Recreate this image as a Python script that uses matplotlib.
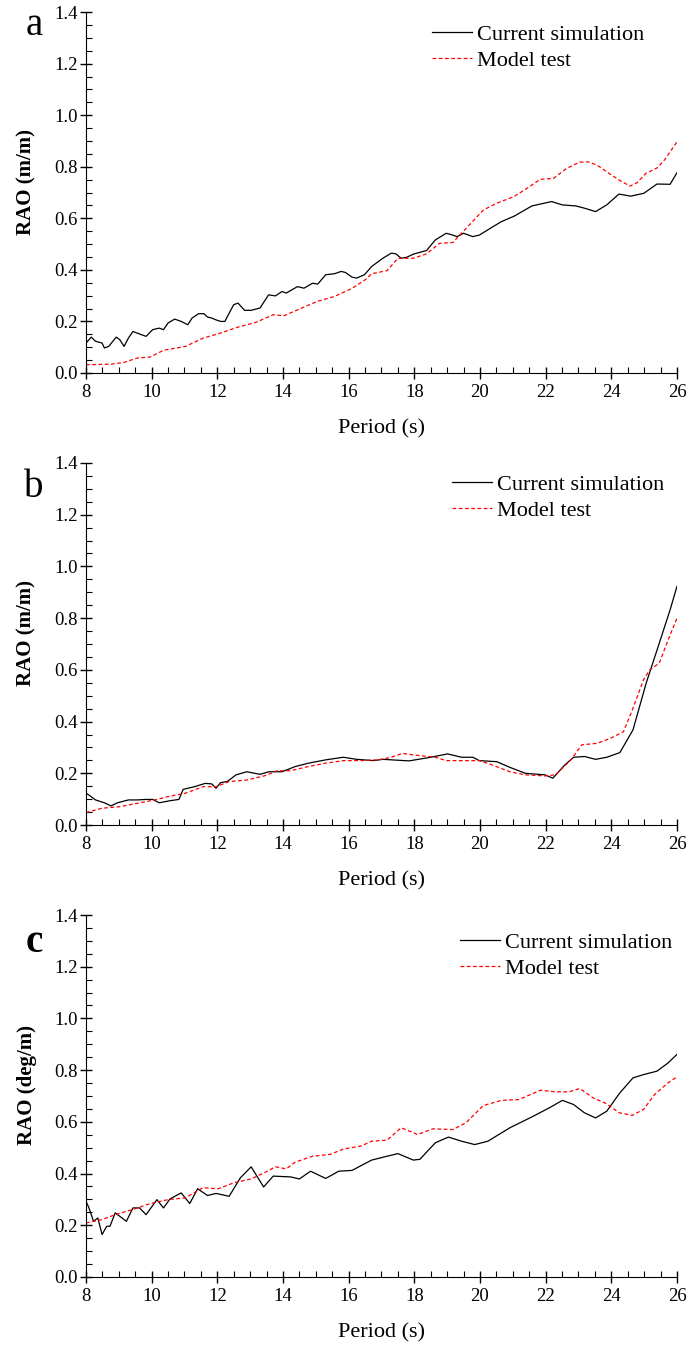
import matplotlib
matplotlib.use('Agg')
import matplotlib.pyplot as plt
from matplotlib.ticker import MultipleLocator

plt.rcParams['font.family'] = ['Liberation Serif', 'DejaVu Serif']

# ---- panel a: RAO (m/m) ----
a_sim_x = [8.0, 8.16, 8.29, 8.49, 8.56, 8.69, 8.92, 9.03, 9.16, 9.29, 9.43, 9.70, 9.83,
           10.03, 10.23, 10.36, 10.50, 10.70, 10.90, 11.1, 11.23, 11.43, 11.59, 11.70,
           11.83, 11.96, 12.1, 12.23, 12.36, 12.5, 12.63, 12.83, 13.03, 13.3, 13.56,
           13.77, 13.97, 14.1, 14.44, 14.64, 14.9, 15.06, 15.3, 15.57, 15.77, 15.9,
           16.1, 16.24, 16.48, 16.7, 17.04, 17.3, 17.44, 17.6, 17.77, 17.97, 18.37,
           18.64, 18.97, 19.17, 19.3, 19.5, 19.78, 19.98, 20.31, 20.65, 21.05, 21.58,
           22.18, 22.51, 22.92, 23.19, 23.52, 23.86, 24.23, 24.59, 24.99, 25.39, 25.79, 26.0]
a_sim_y = [0.116, 0.139, 0.123, 0.116, 0.097, 0.103, 0.139, 0.129, 0.103, 0.135, 0.161,
           0.148, 0.142, 0.168, 0.174, 0.168, 0.194, 0.209, 0.2, 0.187, 0.213, 0.23, 0.23,
           0.217, 0.213, 0.206, 0.2, 0.2, 0.232, 0.265, 0.271, 0.243, 0.243, 0.252, 0.303,
           0.299, 0.316, 0.31, 0.335, 0.329, 0.348, 0.345, 0.381, 0.385, 0.394, 0.39,
           0.372, 0.368, 0.381, 0.413, 0.445, 0.465, 0.462, 0.445, 0.449, 0.461, 0.475,
           0.516, 0.542, 0.535, 0.529, 0.542, 0.529, 0.535, 0.561, 0.587, 0.609, 0.648,
           0.665, 0.652, 0.648, 0.639, 0.626, 0.652, 0.694, 0.686, 0.697, 0.733, 0.732, 0.777]
a_test_x = [8.0, 8.76, 9.16, 9.56, 9.96, 10.36, 11.03, 11.56, 12.1, 12.63, 13.17, 13.7,
            14.03, 14.5, 15.03, 15.57, 16.1, 16.5, 16.7, 17.17, 17.5, 17.97, 18.37, 18.77,
            19.17, 19.63, 20.1, 20.5, 21.03, 21.43, 21.83, 22.24, 22.64, 23.04, 23.3,
            23.57, 23.9, 24.24, 24.57, 24.78, 25.05, 25.4, 25.63, 26.0]
a_test_y = [0.032, 0.034, 0.041, 0.058, 0.062, 0.088, 0.103, 0.135, 0.155, 0.178, 0.196,
            0.226, 0.222, 0.248, 0.277, 0.297, 0.328, 0.361, 0.385, 0.397, 0.445, 0.445,
            0.462, 0.503, 0.506, 0.568, 0.632, 0.658, 0.684, 0.716, 0.751, 0.755, 0.794,
            0.818, 0.819, 0.806, 0.777, 0.748, 0.725, 0.738, 0.774, 0.796, 0.828, 0.897]

# ---- panel b: RAO (m/m) ----
b_sim_x = [8.0, 8.09, 8.29, 8.56, 8.76, 8.96, 9.29, 9.56, 9.83, 10.03, 10.23, 10.56, 10.83,
           10.96, 11.3, 11.63, 11.83, 11.96, 12.1, 12.3, 12.57, 12.9, 13.3, 13.57, 13.97,
           14.37, 14.77, 15.3, 15.84, 16.24, 16.77, 17.04, 17.84, 18.5, 19.01, 19.44,
           19.78, 19.98, 20.51, 20.91, 21.38, 21.98, 22.22, 22.58, 22.85, 23.18, 23.52,
           23.86, 24.26, 24.66, 25.06, 25.46, 25.79, 26.0]
b_sim_y = [0.123, 0.116, 0.097, 0.086, 0.074, 0.086, 0.097, 0.097, 0.099, 0.099, 0.086,
           0.094, 0.099, 0.138, 0.148, 0.161, 0.159, 0.142, 0.164, 0.168, 0.194, 0.206,
           0.196, 0.206, 0.206, 0.226, 0.239, 0.252, 0.262, 0.254, 0.249, 0.254, 0.248,
           0.262, 0.275, 0.262, 0.262, 0.249, 0.245, 0.223, 0.2, 0.194, 0.181, 0.232,
           0.262, 0.265, 0.254, 0.262, 0.28, 0.368, 0.548, 0.703, 0.832, 0.923]
b_test_x = [8.0, 8.49, 9.03, 9.56, 10.1, 10.5, 11.03, 11.56, 11.96, 12.36, 12.9, 13.43,
            13.83, 14.23, 14.77, 15.3, 15.84, 16.37, 16.9, 17.3, 17.64, 17.97, 18.64,
            18.97, 19.57, 19.98, 20.38, 20.91, 21.38, 21.98, 22.3, 22.77, 23.1, 23.57,
            23.97, 24.37, 24.64, 24.98, 25.17, 25.46, 25.73, 26.0]
b_test_y = [0.048, 0.065, 0.071, 0.084, 0.097, 0.11, 0.123, 0.148, 0.148, 0.168, 0.174,
            0.19, 0.21, 0.21, 0.226, 0.239, 0.249, 0.249, 0.252, 0.262, 0.277, 0.271,
            0.262, 0.249, 0.249, 0.249, 0.232, 0.206, 0.194, 0.19, 0.194, 0.252, 0.31,
            0.316, 0.335, 0.361, 0.445, 0.561, 0.6, 0.626, 0.716, 0.8]

# ---- panel c: RAO (deg/m) ----
c_sim_x = [8.0, 8.09, 8.23, 8.36, 8.49, 8.63, 8.73, 8.89, 9.23, 9.43, 9.63, 9.83, 10.16,
           10.36, 10.56, 10.9, 11.16, 11.4, 11.70, 11.96, 12.36, 12.70, 13.03, 13.41,
           13.70, 14.23, 14.5, 14.84, 15.30, 15.7, 16.1, 16.7, 17.17, 17.5, 17.97, 18.17,
           18.64, 19.04, 19.44, 19.84, 20.24, 20.91, 21.58, 22.11, 22.51, 22.85, 23.18,
           23.52, 23.86, 24.26, 24.66, 24.99, 25.39, 25.73, 26.0]
c_sim_y = [0.293, 0.267, 0.215, 0.228, 0.164, 0.196, 0.196, 0.248, 0.215, 0.267, 0.267,
           0.241, 0.299, 0.267, 0.302, 0.325, 0.284, 0.341, 0.315, 0.323, 0.312, 0.383,
           0.426, 0.348, 0.39, 0.387, 0.379, 0.409, 0.381, 0.409, 0.412, 0.452, 0.467,
           0.477, 0.452, 0.455, 0.519, 0.541, 0.525, 0.512, 0.525, 0.577, 0.619, 0.654,
           0.683, 0.667, 0.635, 0.615, 0.641, 0.712, 0.77, 0.783, 0.796, 0.828, 0.861]
c_test_x = [8.0, 8.49, 8.89, 9.43, 9.96, 10.5, 11.03, 11.56, 12.02, 12.5, 13.03, 13.43,
            13.77, 14.1, 14.37, 14.9, 15.44, 15.84, 16.37, 16.7, 17.17, 17.6, 18.1, 18.57,
            19.17, 19.57, 20.1, 20.65, 21.18, 21.84, 22.31, 22.71, 23.04, 23.44, 23.84,
            24.24, 24.64, 24.98, 25.32, 25.73, 26.0]
c_test_y = [0.209, 0.222, 0.241, 0.261, 0.284, 0.299, 0.306, 0.345, 0.341, 0.364, 0.379,
            0.403, 0.426, 0.418, 0.444, 0.467, 0.474, 0.495, 0.506, 0.525, 0.529, 0.577,
            0.551, 0.573, 0.570, 0.596, 0.663, 0.683, 0.686, 0.722, 0.716, 0.716, 0.729,
            0.693, 0.671, 0.635, 0.625, 0.648, 0.706, 0.751, 0.774]

panels = [
    ('a', 'RAO (m/m)', a_sim_x, a_sim_y, a_test_x, a_test_y, 'normal'),
    ('b', 'RAO (m/m)', b_sim_x, b_sim_y, b_test_x, b_test_y, 'normal'),
    ('c', 'RAO (deg/m)', c_sim_x, c_sim_y, c_test_x, c_test_y, 'bold'),
]
# axes boxes in figure fractions: left, bottom, width, height
boxes = [
    [0.125, 0.7227, 0.859, 0.2683],
    [0.125, 0.3866, 0.859, 0.2692],
    [0.125, 0.0506, 0.859, 0.2691],
]
legend_anchor = [(0.585, 0.966), (0.619, 0.969), (0.632, 0.952)]
letter_y = [0.936, 0.906, 0.898]

fig = plt.figure(figsize=(6.88, 13.45), dpi=100)

for (letter, ylab, sx, sy, tx, ty, lw), box, anc, ly in zip(panels, boxes, legend_anchor, letter_y):
    ax = fig.add_axes(box)
    ax.plot(sx, sy, color='black', lw=0.9, label='Current simulation')
    ax.plot(tx, ty, color='red', lw=0.9, ls=(0, (3, 2)), label='Model test')
    ax.set_xlim(8, 26)
    ax.set_ylim(0, 1.4)
    ax.xaxis.set_major_locator(MultipleLocator(2))
    ax.xaxis.set_minor_locator(MultipleLocator(0.5))
    ax.yaxis.set_major_locator(MultipleLocator(0.2))
    ax.yaxis.set_minor_locator(MultipleLocator(0.05))
    ax.yaxis.set_major_formatter(plt.FuncFormatter(lambda v, p: '%.1f' % v))
    ax.spines['top'].set_visible(False)
    ax.spines['right'].set_visible(False)
    ax.tick_params(which='major', direction='inout', length=8, width=1, labelsize=13.5)
    ax.tick_params(axis='x', which='major', pad=4)
    ax.tick_params(axis='y', which='major', pad=2)
    ax.tick_params(which='minor', direction='in', length=4, width=0.8)
    ax.set_xlabel('Period (s)', fontsize=16)
    ax.xaxis.set_label_coords(0.5, -0.128)
    ax.set_ylabel(ylab, fontsize=15, fontweight='bold')
    ax.yaxis.set_label_coords(-0.083, 0.53)
    ax.legend(loc='upper left', bbox_to_anchor=anc, frameon=False, fontsize=16,
              borderpad=0, borderaxespad=0, handlelength=1.8, handletextpad=0.25,
              labelspacing=0.25)
    ax.text(-0.088, ly, letter, transform=ax.transAxes, fontsize=28,
            fontweight=lw, ha='center', va='baseline')

fig.savefig('out.png', dpi=100)
